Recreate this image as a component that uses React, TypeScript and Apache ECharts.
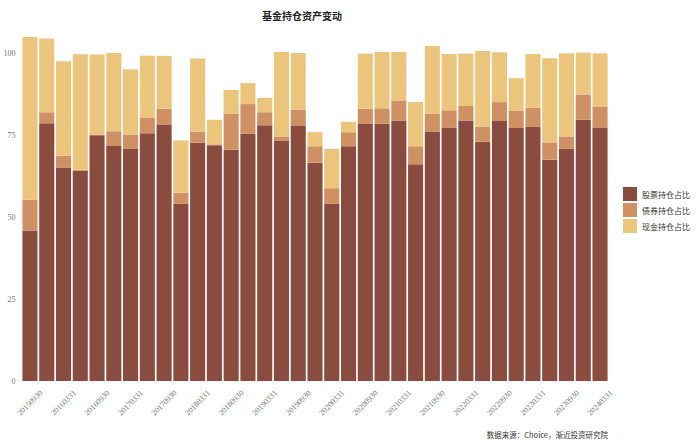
import React, { useEffect, useRef } from "react";
import * as echarts from "echarts";

const dates = [
  "20150930", "20151231", "20160331", "20160630", "20160930", "20161230", "20170331", "20170630",
  "20170930", "20171229", "20180331", "20180629", "20180930", "20181228", "20190331", "20190628",
  "20190930", "20191231", "20200331", "20200630", "20200930", "20201231", "20210331", "20210630",
  "20210930", "20211231", "20220331", "20220630", "20220930", "20221230", "20230331", "20230630",
  "20230930", "20231229", "20240331",
];

const stockShare = [
  46.0, 78.7, 65.2, 64.2, 75.1, 71.8, 70.9, 75.7, 78.2, 54.1, 72.8, 72.0, 70.6, 75.5, 78.1, 73.3,
  77.9, 66.7, 54.1, 71.7, 78.5, 78.6, 79.6, 66.2, 76.2, 77.4, 79.6, 73.1, 79.4, 77.3, 77.6, 67.6,
  70.9, 79.8, 77.4,
];

const bondShare = [
  9.4, 3.4, 3.6, 0.3, 0.2, 4.5, 4.4, 4.8, 5.0, 3.4, 3.4, 0.3, 11.1, 9.1, 4.0, 1.4,
  5.0, 5.0, 4.8, 4.3, 4.7, 4.7, 6.1, 5.5, 5.5, 5.3, 4.4, 4.6, 5.8, 5.3, 5.9, 5.3,
  3.8, 7.7, 6.3,
];

const cashShare = [
  49.7, 22.5, 28.9, 35.3, 24.4, 23.9, 19.9, 18.9, 16.1, 16.0, 22.3, 7.5, 7.2, 6.4, 4.4, 25.8,
  17.3, 4.3, 12.0, 3.2, 16.8, 17.2, 14.8, 13.5, 20.6, 17.2, 16.0, 23.1, 15.2, 9.9, 16.4, 25.7,
  25.4, 12.8, 16.4,
];

const seriesNames = ["股票持仓占比", "债券持仓占比", "现金持仓占比"];
const yTicks = [0, 25, 50, 75, 100];

const SERIF = "'Liberation Serif', 'DejaVu Serif', 'Noto Sans CJK SC', serif";
const CJK = "'Noto Sans CJK SC', 'Liberation Serif', serif";

export default function App() {
  const ref = useRef<HTMLDivElement>(null);
  useEffect(() => {
    if (!ref.current) return;
    const chart = echarts.init(ref.current, undefined, { renderer: "svg" });
    const colors = ["#894C3E", "#CF9164", "#ECC57D"];
    const data = [stockShare, bondShare, cashShare];
    chart.setOption({
      animation: false,
      backgroundColor: "#ffffff",
      title: {
        text: "基金持仓资产变动",
        left: 297,
        top: 5,
        textAlign: "center",
        textStyle: { fontFamily: CJK, fontSize: 10, fontWeight: "bold", color: "#222" },
      },
      legend: {
        orient: "vertical",
        left: 623,
        top: 187,
        padding: 0,
        itemWidth: 14,
        itemHeight: 14,
        itemGap: 2,
        icon: "rect",
        data: seriesNames,
        textStyle: { fontFamily: CJK, fontSize: 8, color: "#333" },
      },
      graphic: [
        {
          type: "text",
          right: 92,
          top: 431,
          style: {
            text: "数据来源：Choice，渐近投资研究院",
            font: `7.5px ${CJK}`,
            fill: "#333",
          },
        },
      ],
      grid: { left: 21.6, right: 91.6, top: 34, bottom: 64, containLabel: false },
      xAxis: {
        type: "category",
        data: dates,
        axisLine: { show: false },
        axisTick: { show: false },
        axisLabel: {
          interval: 1,
          rotate: 45,
          align: "center",
          verticalAlign: "middle",
          margin: 22,
          fontSize: 8,
          fontFamily: SERIF,
          color: "#777",
        },
      },
      yAxis: {
        type: "value",
        min: yTicks[0],
        max: 106,
        interval: 25,
        splitLine: { show: false },
        axisLine: { show: false },
        axisTick: { show: false },
        axisLabel: {
          showMaxLabel: false,
          margin: 6,
          fontSize: 8,
          fontFamily: SERIF,
          color: "#777",
          formatter: (v: number) => (yTicks.includes(v) ? String(v) : ""),
        },
      },
      series: seriesNames.map((name, i) => ({
        name,
        type: "bar",
        stack: "total",
        barCategoryGap: "10%",
        data: data[i],
        itemStyle: { color: colors[i] },
      })),
    });
    return () => chart.dispose();
  }, []);
  return <div ref={ref} style={{ width: 700, height: 445, position: "absolute", left: 0, top: 0 }} />;
}
